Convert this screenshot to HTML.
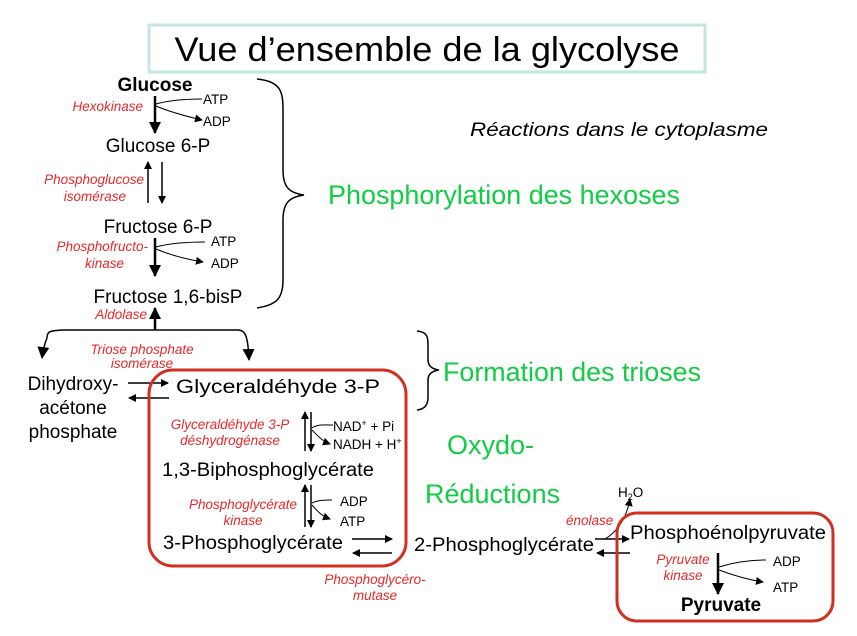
<!DOCTYPE html>
<html><head><meta charset="utf-8"><style>
html,body{margin:0;padding:0;background:#fff;}
svg{display:block;font-family:"Liberation Sans",Arial,sans-serif;}
.n{font-size:19px;fill:#000}
.b{font-size:19px;font-weight:bold;fill:#000}
.r{font-size:13.5px;font-style:italic;fill:#e8282a}
.s{font-size:13.5px;fill:#000}
.g{font-size:27px;fill:#11cc44}
</style></head><body>
<svg width="857" height="636" viewBox="0 0 857 636" xmlns="http://www.w3.org/2000/svg">
<defs>
<marker id="a" markerWidth="8" markerHeight="8" refX="7" refY="4" orient="auto" markerUnits="userSpaceOnUse"><path d="M0,0 L8,4 L0,8 Z" fill="#000"/></marker>
<marker id="A" markerWidth="12" markerHeight="12" refX="11" refY="6" orient="auto" markerUnits="userSpaceOnUse"><path d="M0,0 L12,6 L0,12 Z" fill="#000"/></marker>
</defs>
<rect x="149" y="25" width="556" height="47" fill="#fff" stroke="#c4e4e6" stroke-width="3"/>
<text x="427" y="61" font-size="34" text-anchor="middle" textLength="505" lengthAdjust="spacingAndGlyphs">Vue d’ensemble de la glycolyse</text>

<text x="470" y="136" font-size="19" font-style="italic" textLength="298" lengthAdjust="spacingAndGlyphs">Réactions dans le cytoplasme</text>
<text class="g" x="328" y="204" textLength="352" lengthAdjust="spacingAndGlyphs">Phosphorylation des hexoses</text>
<text class="g" x="443" y="381" textLength="258" lengthAdjust="spacingAndGlyphs">Formation des trioses</text>
<text class="g" x="447" y="454">Oxydo-</text>
<text class="g" x="425" y="503">Réductions</text>

<path d="M257,79 C285,82 283,95 283,120 L283,170 C283,188 290,193 304,195 C290,197 283,202 283,220 L283,280 C283,300 275,305 257,308" fill="none" stroke="#000" stroke-width="1.5"/>
<path d="M417,331 C428,332 428,338 428,345 L428,360 C428,366 432,369 439,370 C432,371 428,374 428,380 L428,397 C428,405 425,409 417,410" fill="none" stroke="#000" stroke-width="1.5"/>

<text class="b" x="155" y="91" text-anchor="middle">Glucose</text>
<text class="r" x="143" y="111" text-anchor="end">Hexokinase</text>
<line x1="155" y1="96" x2="155" y2="133" stroke="#000" stroke-width="2.5" marker-end="url(#A)"/>
<path d="M156,104 C170,100 185,99 202,99" fill="none" stroke="#000"/>
<path d="M156,106 C170,112 185,116 202,120" fill="none" stroke="#000" marker-end="url(#a)"/>
<text class="s" x="203" y="104">ATP</text>
<text class="s" x="203" y="126">ADP</text>

<text class="n" x="158" y="152" text-anchor="middle">Glucose 6-P</text>
<line x1="148" y1="203" x2="148" y2="162" stroke="#000" stroke-width="1.5" marker-end="url(#a)"/>
<line x1="162" y1="162" x2="162" y2="203" stroke="#000" stroke-width="1.5" marker-end="url(#a)"/>
<text class="r" x="144" y="184" text-anchor="end">Phosphoglucose</text>
<text class="r" x="126" y="201" text-anchor="end">isomérase</text>

<text class="n" x="158" y="233" text-anchor="middle">Fructose 6-P</text>
<text class="r" x="148" y="251" text-anchor="end">Phosphofructo-</text>
<text class="r" x="124" y="268" text-anchor="end">kinase</text>
<line x1="155" y1="238" x2="155" y2="276" stroke="#000" stroke-width="2.5" marker-end="url(#A)"/>
<path d="M156,247 C170,243 190,242 205,242" fill="none" stroke="#000"/>
<path d="M156,249 C170,255 185,259 203,262" fill="none" stroke="#000" marker-end="url(#a)"/>
<text class="s" x="211" y="246">ATP</text>
<text class="s" x="211" y="268">ADP</text>

<text class="n" x="168" y="303" text-anchor="middle">Fructose 1,6-bisP</text>
<text class="r" x="147" y="319" text-anchor="end">Aldolase</text>
<line x1="155" y1="330" x2="155" y2="308" stroke="#000" stroke-width="2.5" marker-end="url(#A)"/>

<path d="M47,338 C47,330 52,331 62,330 L238,330 C245,330 248,335 249,360" fill="none" stroke="#000" stroke-width="1.5" marker-end="url(#A)"/>
<path d="M47,338 C44,345 43,350 42,358" fill="none" stroke="#000" stroke-width="1.5" marker-end="url(#A)"/>
<text class="r" x="142" y="354" text-anchor="middle">Triose phosphate</text>
<text class="r" x="142" y="368" text-anchor="middle">isomérase</text>

<text class="n" x="73" y="390" text-anchor="middle">Dihydroxy-</text>
<text class="n" x="73" y="414" text-anchor="middle">acétone</text>
<text class="n" x="73" y="438" text-anchor="middle">phosphate</text>
<line x1="128" y1="383" x2="168" y2="383" stroke="#000" stroke-width="1.5" marker-end="url(#a)"/>
<line x1="169" y1="398" x2="129" y2="398" stroke="#000" stroke-width="1.5" marker-end="url(#a)"/>

<rect x="149" y="370" width="257" height="196" rx="24" fill="none" stroke="#d03020" stroke-width="3"/>
<text class="n" x="176" y="393" textLength="204" lengthAdjust="spacingAndGlyphs">Glyceraldéhyde 3-P</text>
<text class="r" x="230" y="429" text-anchor="middle">Glyceraldéhyde 3-P</text>
<text class="r" x="230" y="445" text-anchor="middle">déshydrogénase</text>
<line x1="305" y1="451" x2="305" y2="412" stroke="#000" stroke-width="1.5" marker-end="url(#a)"/>
<line x1="311" y1="412" x2="311" y2="451" stroke="#000" stroke-width="1.5" marker-end="url(#a)"/>
<path d="M312,428 C318,424 325,425 333,425" fill="none" stroke="#000"/>
<path d="M312,430 C318,436 322,441 330,444" fill="none" stroke="#000" marker-end="url(#a)"/>
<text class="s" x="333" y="431">NAD<tspan font-size="9" dy="-5">+</tspan><tspan dy="5"> + Pi</tspan></text>
<text class="s" x="333" y="449">NADH + H<tspan font-size="9" dy="-5">+</tspan></text>

<text class="n" x="162" y="476" textLength="212" lengthAdjust="spacingAndGlyphs">1,3-Biphosphoglycérate</text>
<text class="r" x="243" y="509" text-anchor="middle">Phosphoglycérate</text>
<text class="r" x="243" y="525" text-anchor="middle">kinase</text>
<line x1="305" y1="527" x2="305" y2="485" stroke="#000" stroke-width="1.5" marker-end="url(#a)"/>
<line x1="311" y1="485" x2="311" y2="527" stroke="#000" stroke-width="1.5" marker-end="url(#a)"/>
<path d="M312,503 C318,500 325,500 332,500" fill="none" stroke="#000"/>
<path d="M312,505 C318,512 322,516 330,519" fill="none" stroke="#000" marker-end="url(#a)"/>
<text class="s" x="340" y="506">ADP</text>
<text class="s" x="340" y="526">ATP</text>

<text class="n" x="163" y="549" textLength="180" lengthAdjust="spacingAndGlyphs">3-Phosphoglycérate</text>
<line x1="352" y1="539" x2="392" y2="539" stroke="#000" stroke-width="1.5" marker-end="url(#a)"/>
<line x1="392" y1="553" x2="353" y2="553" stroke="#000" stroke-width="1.5" marker-end="url(#a)"/>
<text class="r" x="375" y="584" text-anchor="middle">Phosphoglycéro-</text>
<text class="r" x="375" y="600" text-anchor="middle">mutase</text>

<text class="n" x="414" y="551" textLength="180" lengthAdjust="spacingAndGlyphs">2-Phosphoglycérate</text>
<line x1="595" y1="539" x2="629" y2="539" stroke="#000" stroke-width="1.5" marker-end="url(#a)"/>
<line x1="630" y1="553" x2="597" y2="553" stroke="#000" stroke-width="1.5" marker-end="url(#a)"/>
<path d="M605,539 C620,530 627,515 630,499" fill="none" stroke="#000" marker-end="url(#a)"/>
<text class="r" x="566" y="525">énolase</text>
<text class="s" x="618" y="497">H<tspan font-size="9" dy="3">2</tspan><tspan dy="-3">O</tspan></text>

<rect x="617" y="513" width="216" height="108" rx="20" fill="none" stroke="#d03020" stroke-width="3"/>
<text class="n" x="630" y="539" textLength="196" lengthAdjust="spacingAndGlyphs">Phosphoénolpyruvate</text>
<text class="r" x="683" y="564" text-anchor="middle">Pyruvate</text>
<text class="r" x="683" y="580" text-anchor="middle">kinase</text>
<line x1="718" y1="553" x2="718" y2="594" stroke="#000" stroke-width="2.5" marker-end="url(#A)"/>
<path d="M719,567 C735,562 750,560 766,560" fill="none" stroke="#000"/>
<path d="M719,570 C735,576 750,580 763,582" fill="none" stroke="#000" marker-end="url(#a)"/>
<text class="s" x="773" y="566">ADP</text>
<text class="s" x="773" y="592">ATP</text>
<text class="b" x="721" y="611" text-anchor="middle">Pyruvate</text>
</svg>
</body></html>
